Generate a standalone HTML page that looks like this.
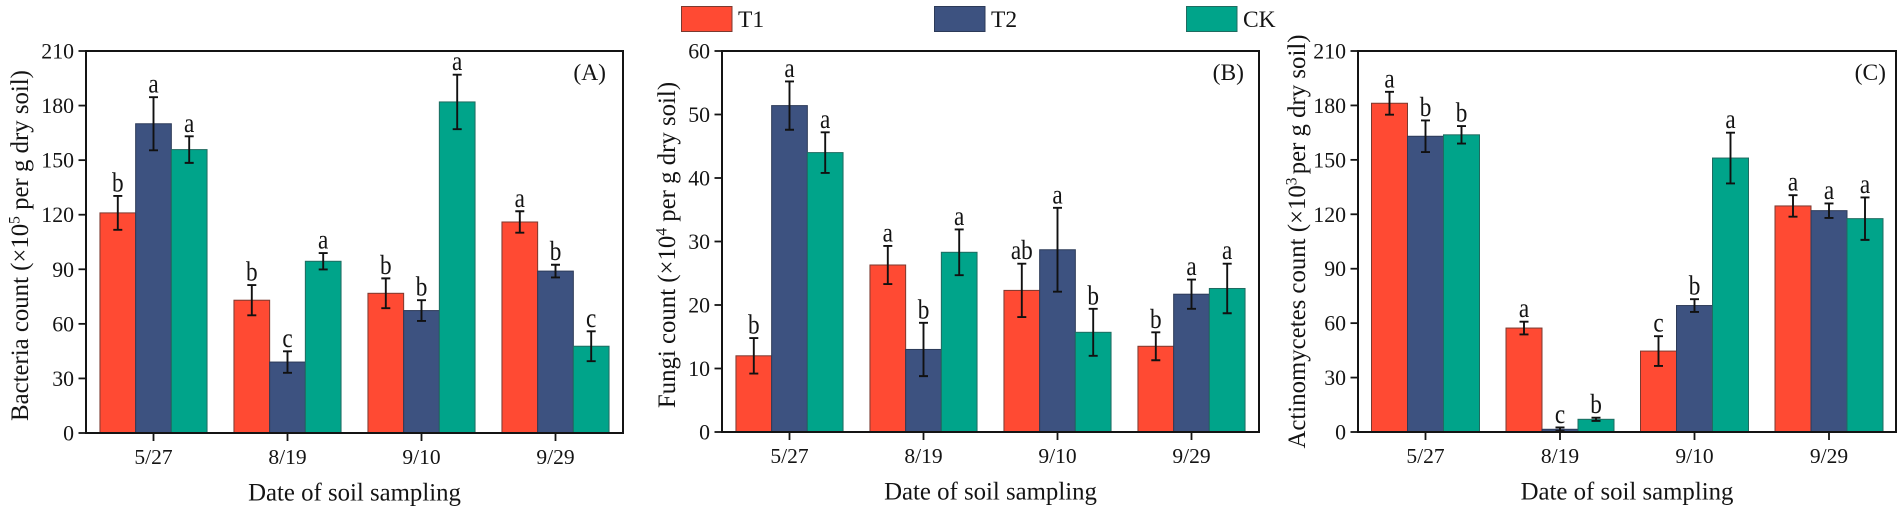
<!DOCTYPE html>
<html lang="en">
<head>
<meta charset="utf-8">
<title>Soil microbial counts</title>
<style>
html,body{margin:0;padding:0;background:#fff;width:1902px;height:512px;overflow:hidden}
svg{display:block}
text{font-family:"Liberation Serif",serif;fill:#141414}
</style>
</head>
<body>
<svg id="chart" xmlns="http://www.w3.org/2000/svg" width="1902" height="512" viewBox="0 0 1902 512">
  <g>
    <rect x="681.5" y="6.5" width="50.5" height="25" fill="#ff4a33" stroke="#7a3a30" stroke-width="1"/>
    <text x="738" y="27" font-size="23.5">T1</text>
    <rect x="934.5" y="6.5" width="50.5" height="25" fill="#3d5280" stroke="#2c3a58" stroke-width="1"/>
    <text x="991" y="27" font-size="23.5">T2</text>
    <rect x="1186.5" y="6.5" width="50.5" height="25" fill="#00a48a" stroke="#1f6b60" stroke-width="1"/>
    <text x="1243" y="27" font-size="23.5">CK</text>
  </g>
  <g id="panel-a"></g>
  <g id="panel-b"></g>
  <g id="panel-c"></g>
</svg>
<script>
const dates = ['5/27', '8/19', '9/10', '9/29'];
const seriesNames = ['T1', 'T2', 'CK'];

const bacteriaTicks = [0, 30, 60, 90, 120, 150, 180, 210];
const bacteriaT1 = [121, 73, 76.8, 116];
const bacteriaT2 = [170, 39, 67.3, 89];
const bacteriaCK = [155.8, 94.4, 182, 47.7];
const bacteriaT1Err = [9.3, 8.3, 8.2, 5.9];
const bacteriaT2Err = [14.6, 5.9, 5.7, 3.5];
const bacteriaCKErr = [7.3, 4.5, 15, 8.2];
const bacteriaT1Sig = ['b', 'b', 'b', 'a'];
const bacteriaT2Sig = ['a', 'c', 'b', 'b'];
const bacteriaCKSig = ['a', 'a', 'a', 'c'];

const fungiTicks = [0, 10, 20, 30, 40, 50, 60];
const fungiT1 = [12, 26.3, 22.3, 13.5];
const fungiT2 = [51.4, 13, 28.7, 21.7];
const fungiCK = [44, 28.3, 15.7, 22.6];
const fungiT1Err = [2.8, 3, 4.2, 2.2];
const fungiT2Err = [3.8, 4.2, 6.6, 2.3];
const fungiCKErr = [3.2, 3.6, 3.7, 3.9];
const fungiT1Sig = ['b', 'a', 'ab', 'b'];
const fungiT2Sig = ['a', 'b', 'a', 'a'];
const fungiCKSig = ['a', 'a', 'b', 'a'];

const actinoTicks = [0, 30, 60, 90, 120, 150, 180, 210];
const actinoT1 = [181.2, 57.3, 44.6, 124.6];
const actinoT2 = [163, 1.5, 69.7, 122];
const actinoCK = [163.8, 7, 151, 117.6];
const actinoT1Err = [6.3, 3.5, 8.2, 5.9];
const actinoT2Err = [8.7, 1, 3.5, 4];
const actinoCKErr = [4.8, 0.9, 14, 11.7];
const actinoT1Sig = ['a', 'a', 'c', 'a'];
const actinoT2Sig = ['b', 'c', 'b', 'a'];
const actinoCKSig = ['b', 'b', 'a', 'a'];

const NS = 'http://www.w3.org/2000/svg';
const fills = ['#ff4a33', '#3d5280', '#00a48a'];
const edges = ['#7a3a30', '#2c3a58', '#1f6b60'];

function make(parent, tag, attrs, txt) {
  const el = document.createElementNS(NS, tag);
  for (const k in attrs) el.setAttribute(k, attrs[k]);
  if (txt !== undefined) el.textContent = txt;
  parent.appendChild(el);
  return el;
}

function drawPanel(cfg) {
  const g = document.getElementById(cfg.id);
  const yMax = cfg.ticks[cfg.ticks.length - 1];
  const yScale = v => cfg.bottom - (v / yMax) * (cfg.bottom - cfg.top);
  const groupCenter = i => cfg.firstCenter + i * cfg.step;

  cfg.values.forEach((vals, s) => {
    vals.forEach((v, i) => {
      const x = groupCenter(i) + (s - 1.5) * cfg.barW;
      const y = yScale(v);
      const bar = make(g, 'rect', {x: x, y: y, width: cfg.barW, height: yScale(0) - y, fill: fills[s], stroke: edges[s], 'stroke-width': 1});
      
      
    });
  });

  cfg.values.forEach((vals, s) => {
    vals.forEach((v, i) => {
      const cx = groupCenter(i) + (s - 1) * cfg.barW;
      const hi = yScale(v + cfg.errs[s][i]);
      const lo = yScale(v - cfg.errs[s][i]);
      const eb = make(g, 'path', {d: `M${cx - 4.5} ${hi}H${cx + 4.5}M${cx} ${hi}V${lo}M${cx - 4.5} ${lo}H${cx + 4.5}`, fill: 'none', stroke: '#111', 'stroke-width': 1.9});
      
      
      const t = make(g, 'text', {transform: `translate(${cx} ${hi - 4.5}) scale(0.86 1)`, 'text-anchor': 'middle', 'font-size': 27}, cfg.sig[s][i]);
      
      
    });
  });

  const frame = make(g, 'rect', {x: cfg.left, y: cfg.top, width: cfg.right - cfg.left, height: cfg.bottom - cfg.top, fill: 'none', stroke: '#141414', 'stroke-width': 2});
  
  

  cfg.ticks.forEach(tv => {
    const y = yScale(tv);
    const tick = make(g, 'line', {x1: cfg.left - 7.5, x2: cfg.left, y1: y, y2: y, stroke: '#141414', 'stroke-width': 1.8});
    
    
    const lab = make(g, 'text', {x: cfg.left - 12, y: y + 7.5, 'text-anchor': 'end', 'font-size': 21.8}, String(tv));
    
    
  });

  dates.forEach((d, i) => {
    const x = groupCenter(i);
    const tick = make(g, 'line', {x1: x, x2: x, y1: cfg.bottom, y2: cfg.bottom + 8, stroke: '#141414', 'stroke-width': 1.8});
    
    
    const lab = make(g, 'text', {x: x, y: cfg.bottom + 31, 'text-anchor': 'middle', 'font-size': 21.5}, d);
    
    
  });

  const xTitle = make(g, 'text', {x: (cfg.left + cfg.right) / 2, y: cfg.bottom + 67.5, 'text-anchor': 'middle', 'font-size': 24.8}, 'Date of soil sampling');
  
  

  const yTitle = make(g, 'text', {transform: `translate(${cfg.yTitleX} ${cfg.yTitleY}) rotate(-90)`, 'text-anchor': 'middle', 'font-size': 24.8});
  
  
  make(yTitle, 'tspan', {}, cfg.yTitle[0]);
  make(yTitle, 'tspan', {dy: -8.5, 'font-size': 15.5}, cfg.yTitle[1]);
  make(yTitle, 'tspan', {dy: 8.5, dx: cfg.yTitleGap}, cfg.yTitle[2]);

  const tag = make(g, 'text', {x: cfg.tagRight, y: cfg.top + 29, 'text-anchor': 'end', 'font-size': 23.5}, cfg.tag);
  
  
}

drawPanel({id: 'panel-a', left: 86, right: 623, top: 51, bottom: 433, firstCenter: 153.5, step: 134, barW: 35.7,
  ticks: bacteriaTicks, values: [bacteriaT1, bacteriaT2, bacteriaCK],
  errs: [bacteriaT1Err, bacteriaT2Err, bacteriaCKErr], sig: [bacteriaT1Sig, bacteriaT2Sig, bacteriaCKSig],
  tag: '(A)', tagRight: 606, yTitle: ['Bacteria count (×10', '5', ' per g dry soil)'], yTitleGap: 0, yTitleX: 28, yTitleY: 245.5});
drawPanel({id: 'panel-b', left: 722, right: 1259, top: 51, bottom: 432, firstCenter: 789.5, step: 134, barW: 35.7,
  ticks: fungiTicks, values: [fungiT1, fungiT2, fungiCK],
  errs: [fungiT1Err, fungiT2Err, fungiCKErr], sig: [fungiT1Sig, fungiT2Sig, fungiCKSig],
  tag: '(B)', tagRight: 1244, yTitle: ['Fungi count (×10', '4', ' per g dry soil)'], yTitleGap: 0, yTitleX: 675, yTitleY: 245});
drawPanel({id: 'panel-c', left: 1358, right: 1896, top: 51, bottom: 432, firstCenter: 1425.5, step: 134.5, barW: 36,
  ticks: actinoTicks, values: [actinoT1, actinoT2, actinoCK],
  errs: [actinoT1Err, actinoT2Err, actinoCKErr], sig: [actinoT1Sig, actinoT2Sig, actinoCKSig],
  tag: '(C)', tagRight: 1886, yTitle: ['Actinomycetes count (×10', '3', ' per g dry soil)'], yTitleGap: -3, yTitleX: 1305, yTitleY: 241.5});
</script>
</body>
</html>
